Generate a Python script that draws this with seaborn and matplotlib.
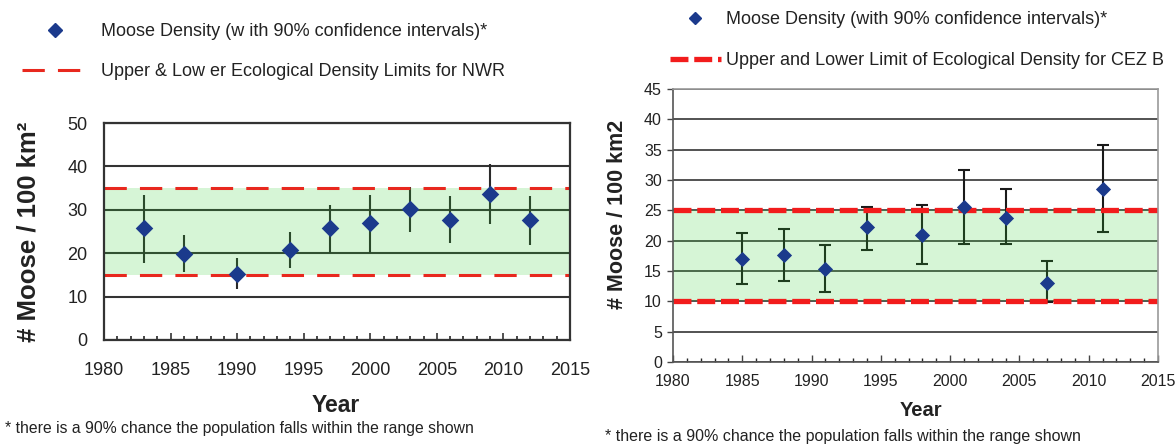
import numpy as np
import pandas as pd
import seaborn as sns
import matplotlib.pyplot as plt
from matplotlib.lines import Line2D
from matplotlib.ticker import MultipleLocator

# NWR survey (left panel)
nwr_years = [1983, 1986, 1990, 1994, 1997, 2000, 2003, 2006, 2009, 2012]
nwr_density = [25.7, 19.9, 15.2, 20.7, 25.8, 26.9, 30.2, 27.7, 33.7, 27.7]
nwr_low = [17.7, 15.6, 11.7, 16.7, 20.0, 20.0, 25.0, 22.3, 26.8, 21.8]
nwr_high = [33.4, 24.3, 18.9, 24.9, 31.0, 33.3, 35.2, 33.1, 40.6, 33.1]
nwr_limits = [15, 35]

# CEZ B survey (right panel)
cez_years = [1985, 1988, 1991, 1994, 1998, 2001, 2004, 2007, 2011]
cez_density = [17.0, 17.7, 15.3, 22.2, 21.0, 25.5, 23.8, 13.1, 28.5]
cez_low = [12.8, 13.4, 11.5, 18.5, 16.1, 19.4, 19.4, 9.9, 21.5]
cez_high = [21.3, 22.0, 19.3, 25.6, 25.9, 31.7, 28.5, 16.6, 35.7]
cez_limits = [10, 25]

navy = "#1b3a8c"
band_green = "limegreen"
font = "Liberation Sans"

sns.set_theme(style="white")
plt.rcParams["font.family"] = [font, "DejaVu Sans"]

fig = plt.figure(figsize=(11.75, 4.46), dpi=100)
ax1 = fig.add_axes([104 / 1175, 1 - 340 / 446, 466 / 1175, 217 / 446])
ax2 = fig.add_axes([673 / 1175, 1 - 362 / 446, 485 / 1175, 273 / 446])


def draw_panel(ax, years, dens, lo, hi, limits, red, dash, lw_red, caps, msize, ecolor):
    df = pd.DataFrame({"year": years, "density": dens, "low": lo, "high": hi})
    yerr = np.vstack([df["density"] - df["low"], df["high"] - df["density"]])
    ax.errorbar(df["year"], df["density"], yerr=yerr, fmt="none", ecolor=ecolor,
                elinewidth=1.5, capsize=caps, capthick=1.5, zorder=0.9)
    ax.axhspan(limits[0], limits[1], color=band_green, alpha=0.2, lw=0, zorder=1)
    for lim in limits:
        ax.axhline(lim, color=red, lw=lw_red, ls=(0, dash), zorder=2)
    sns.scatterplot(data=df, x="year", y="density", marker="D", s=msize, color=navy,
                    edgecolor=navy, linewidth=0, ax=ax, zorder=3, legend=False)
    ax.set_xlim(1980, 2015)
    ax.xaxis.set_major_locator(MultipleLocator(5))
    ax.xaxis.set_minor_locator(MultipleLocator(1))
    ax.tick_params(axis="x", which="major", direction="in", length=5, bottom=True)
    ax.tick_params(axis="x", which="minor", direction="in", length=3, bottom=True)


# left panel
draw_panel(ax1, nwr_years, nwr_density, nwr_low, nwr_high, nwr_limits,
           "#e8281e", (7.3, 4.3), 2.2, 0, 80, "#2a2a2a")
ax1.set_ylim(0, 50)
ax1.set_yticks(range(0, 51, 10))
ax1.grid(axis="y", color="#333333", lw=1.5)
for s in ax1.spines.values():
    s.set_color("#333333")
    s.set_linewidth(1.6)
ax1.tick_params(axis="both", labelsize=13, colors="#333333", labelcolor="#222222")
ax1.tick_params(axis="x", which="both", pad=16, width=1.2)
ax1.tick_params(axis="y", length=0, pad=12)
ax1.set_xlabel("Year", fontsize=16.5, fontweight="bold", color="#222222")
ax1.set_ylabel("# Moose / 100 km²", fontsize=18.5, fontweight="bold", color="#222222")
ax1.xaxis.label.set_va("center")
ax1.yaxis.label.set_va("center")
ax1.xaxis.set_label_coords(0.497, -0.30)
ax1.yaxis.set_label_coords(-0.163, 0.5)

# right panel
draw_panel(ax2, cez_years, cez_density, cez_low, cez_high, cez_limits,
           "#f21c1c", (3.4, 1.1), 3.8, 4, 60, "#1a1a1a")
ax2.set_ylim(0, 45)
ax2.set_yticks(range(0, 46, 5))
ax2.grid(axis="y", color="#444444", lw=1.3)
for s in ax2.spines.values():
    s.set_color("#9a9a9a")
    s.set_linewidth(1.2)
ax2.spines["left"].set_color("#555555")
ax2.spines["bottom"].set_color("#555555")
ax2.tick_params(axis="both", labelsize=11.5, colors="#444444", labelcolor="#222222")
ax2.tick_params(axis="x", which="both", pad=9, width=1.0)
ax2.tick_params(axis="y", direction="out", length=4, left=True, pad=4, width=1.0)
ax2.set_xlabel("Year", fontsize=14.5, fontweight="bold", color="#222222")
ax2.set_ylabel("# Moose / 100 km2", fontsize=15.5, fontweight="bold", color="#222222")
ax2.xaxis.label.set_va("center")
ax2.yaxis.label.set_va("center")
ax2.xaxis.set_label_coords(0.511, -0.178)
ax2.yaxis.set_label_coords(-0.115, 0.542)

# legends
h1 = [Line2D([], [], marker="D", ls="none", color=navy, markersize=7),
      Line2D([], [], color="#e8281e", lw=2.2, ls=(0, (7.3, 4.3)))]
fig.legend(h1, ["Moose Density (w ith 90% confidence intervals)*",
                "Upper & Low er Ecological Density Limits for NWR"],
           loc="upper left", bbox_to_anchor=(22 / 1175, 1 - 23 / 446), frameon=False,
           fontsize=13, handlelength=3.7, handletextpad=0.65, labelspacing=1.3,
           borderpad=0, borderaxespad=0, labelcolor="#222222")

h2 = [Line2D([], [], marker="D", ls="none", color=navy, markersize=6),
      Line2D([], [], color="#f21c1c", lw=3.8, ls=(0, (3.4, 1.1)))]
fig.legend(h2, ["Moose Density (with 90% confidence intervals)*",
                "Upper and Lower Limit of Ecological Density for CEZ B"],
           loc="upper left", bbox_to_anchor=(670 / 1175, 1 - 11 / 446), frameon=False,
           fontsize=13, handlelength=2.8, handletextpad=0.3, labelspacing=1.35,
           borderpad=0, borderaxespad=0, labelcolor="#222222")

# footnotes
fig.text(5 / 1175, 1 - 428 / 446,
         "* there is a 90% chance the population falls within the range shown",
         fontsize=11.3, va="center", color="#222222")
fig.text(605 / 1175, 1 - 437 / 446,
         "* there is a 90% chance the population falls within the range shown",
         fontsize=11.5, va="center", color="#222222")

fig.savefig("out.png", dpi=100)
